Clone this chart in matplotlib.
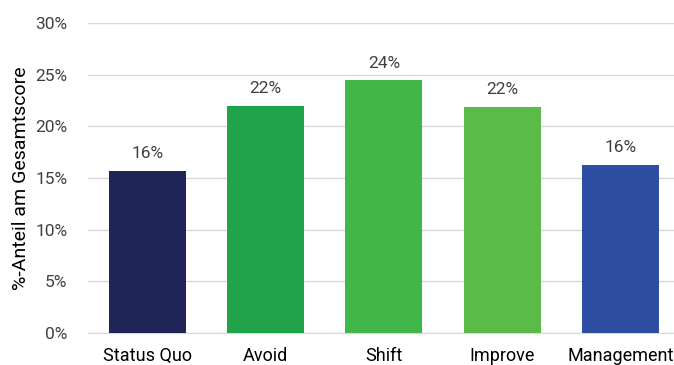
import matplotlib.pyplot as plt

categories = ['Status Quo', 'Avoid', 'Shift', 'Improve', 'Management']
shares = [15.7, 22.0, 24.5, 21.9, 16.3]
colors = ['#1f2557', '#21a34a', '#43b649', '#5bbb48', '#2e4fa1']

plt.rcParams['font.family'] = ['Roboto', 'DejaVu Sans']

fig = plt.figure(figsize=(6.74, 3.65), dpi=100)
ax = fig.add_axes([0.131, 0.088, 0.872, 0.849])

x = range(len(categories))
bars = ax.bar(x, shares, width=0.65, color=colors, zorder=3)

# value labels above each bar
for rect, v in zip(bars, shares):
    ax.text(rect.get_x() + rect.get_width() / 2, v + 0.9, f'{round(v):.0f}%',
            ha='center', va='bottom', fontsize=12.5, color='#404040')

ax.set_ylim(0, 30)
ax.set_xlim(-0.5, 4.47)
ax.set_yticks(range(0, 31, 5))
ax.set_yticklabels([f'{t}%' for t in range(0, 31, 5)], fontsize=12.5, color='#404040')
ax.set_xticks(list(x))
ax.set_xticklabels(categories, fontsize=13, color='black')
ax.set_ylabel('%-Anteil am Gesamtscore', fontsize=14, color='black', labelpad=4)

ax.grid(axis='y', color='#d9d9d9', linewidth=1, zorder=0)
for s in ['top', 'right', 'left']:
    ax.spines[s].set_visible(False)
ax.spines['bottom'].set_color('#d9d9d9')
ax.tick_params(axis='both', length=0)
ax.tick_params(axis='y', pad=15)
ax.tick_params(axis='x', pad=10)

plt.savefig('out.png', dpi=100)
